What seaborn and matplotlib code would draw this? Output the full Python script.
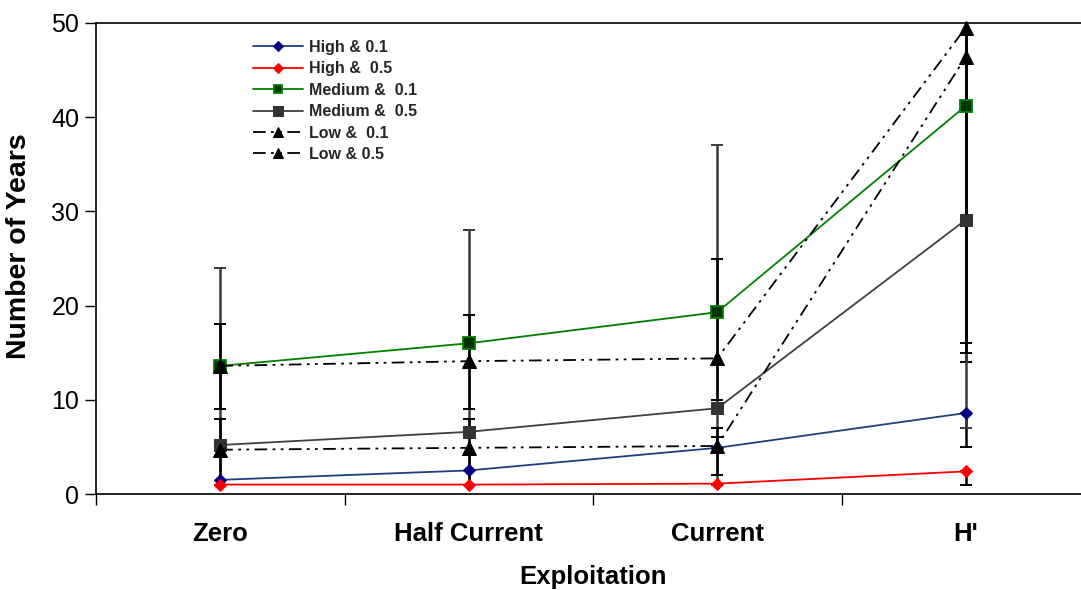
import matplotlib
matplotlib.use("Agg")
import matplotlib.pyplot as plt
import seaborn as sns
import numpy as np

nan = np.nan

# ---- data ----
categories = ["Zero", "Half Current", "Current", "H'"]
labels = ["High & 0.1", "High &  0.5", "Medium &  0.1", "Medium &  0.5", "Low &  0.1", "Low & 0.5"]

high_01 = [1.5, 2.5, 4.9, 8.6]
high_05 = [1.0, 1.0, 1.1, 2.4]
med_01 = [13.6, 16.0, 19.3, 41.2]
med_05 = [5.2, 6.6, 9.1, 29.1]
low_01 = [13.6, 14.1, 14.4, 49.5]
low_05 = [4.7, 4.9, 5.1, 46.4]

# error-bar bounds (lower / upper), nan = no bar
high_01_lo = [nan, nan, 4.9, 5.0]
high_01_hi = [nan, nan, 6.0, 8.6]
high_05_lo = [nan, nan, nan, 1.0]
high_05_hi = [nan, nan, nan, 2.4]
med_01_lo = [nan, nan, nan, 14.0]
med_01_hi = [nan, nan, nan, 68.0]
med_05_lo = [1.0, 1.0, 1.0, 7.0]
med_05_hi = [24.0, 28.0, 37.0, 56.0]
low_01_lo = [9.0, 9.0, 10.0, 16.0]
low_01_hi = [18.0, 19.0, 25.0, 83.0]
low_05_lo = [1.0, 1.0, 2.0, 15.0]
low_05_hi = [8.0, 8.0, 7.0, 78.0]

# ---- style ----
sns.set_theme(style="white")
plt.rcParams['font.family'] = ['Liberation Sans', 'DejaVu Sans']

fig = plt.figure(figsize=(10.81, 5.90), dpi=100)
ax = fig.add_axes([96 / 1081, 96 / 590, 994 / 1081, 471 / 590])

x = np.arange(len(categories))
dashdotdot = (0, (7, 3, 1.5, 3, 1.5, 3))

series = [
    (high_01, high_01_lo, high_01_hi, dict(color="#1F3F7F", marker="D", markersize=6.5,
                                           markerfacecolor="#000080", markeredgecolor="#000080",
                                           linestyle="-", linewidth=1.3), "black"),
    (high_05, high_05_lo, high_05_hi, dict(color="#FF0000", marker="D", markersize=6.5,
                                           markerfacecolor="#FF0000", markeredgecolor="#FF0000",
                                           linestyle="-", linewidth=1.3), "black"),
    (med_01, med_01_lo, med_01_hi, dict(color="#008000", marker="s", markersize=8.5,
                                        markerfacecolor="#003300", markeredgecolor="#008000",
                                        markeredgewidth=1.3, linestyle="-", linewidth=1.3), "black"),
    (med_05, med_05_lo, med_05_hi, dict(color="#404040", marker="s", markersize=9,
                                        markerfacecolor="#333333", markeredgecolor="#333333",
                                        linestyle="-", linewidth=1.3), "#3a3a3a"),
    (low_01, low_01_lo, low_01_hi, dict(color="black", marker="^", markersize=10,
                                        markerfacecolor="black", markeredgecolor="black",
                                        linestyle=dashdotdot, linewidth=1.3), "black"),
    (low_05, low_05_lo, low_05_hi, dict(color="black", marker="^", markersize=10,
                                        markerfacecolor="black", markeredgecolor="black",
                                        linestyle=dashdotdot, linewidth=1.3), "black"),
]

# error bars first
for vals, lo, hi, kw, ecol in series:
    v = np.array(vals, float)
    lo = np.array(lo, float)
    hi = np.array(hi, float)
    m = ~np.isnan(lo)
    if m.any():
        ax.errorbar(x[m], v[m], yerr=[v[m] - lo[m], hi[m] - v[m]], fmt="none",
                    ecolor=ecol, elinewidth=1.8, capsize=4, capthick=1.4, zorder=2)

for i, ((vals, lo, hi, kw, ecol), lab) in enumerate(zip(series, labels)):
    sns.lineplot(x=x, y=vals, ax=ax, label=lab, zorder=3 + i, clip_on=False, **kw)

ax.set_xlim(-0.5, 3.5)
ax.set_ylim(0, 50)
ax.set_yticks(range(0, 51, 10))
ax.set_xticks(x)
ax.set_xticklabels(categories)
ax.set_xticks([-0.5, 0.5, 1.5, 2.5, 3.5], minor=True)

ax.tick_params(axis="y", direction="out", length=8, width=1, labelsize=18, pad=4,
               left=True, colors="black")
ax.tick_params(axis="x", which="major", length=0, labelsize=18.5, pad=20.5, colors="black")
ax.tick_params(axis="x", which="minor", direction="out", length=8, width=1, bottom=True,
               colors="black")
for t in ax.get_xticklabels():
    t.set_fontweight("bold")

for s in ax.spines.values():
    s.set_color("black")
    s.set_linewidth(1.2)

ax.set_xlabel("Exploitation", fontsize=18.5, fontweight="bold", labelpad=13, color="black")
ax.set_ylabel("Number of Years", fontsize=20.5, fontweight="bold", color="black")
ax.yaxis.set_label_coords(-0.064, 0.527)

handles, labs = ax.get_legend_handles_labels()
ax.legend(handles, labs, loc="upper left", bbox_to_anchor=(253 / 1081, 1 - 40 / 590),
          bbox_transform=fig.transFigure, frameon=False,
          prop=dict(weight="bold", size=11.5), handlelength=3.1, handletextpad=0.4,
          labelspacing=0.4, borderpad=0, borderaxespad=0, markerscale=0.75)

fig.savefig("out.png", dpi=100)
